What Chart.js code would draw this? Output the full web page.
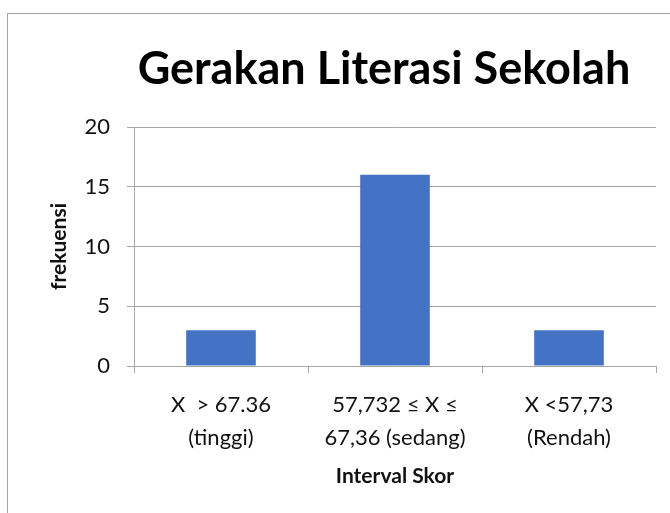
<!DOCTYPE html>
<html>
<head>
<meta charset="utf-8">
<script src="https://cdn.jsdelivr.net/npm/chart.js@4.4.0/dist/chart.umd.min.js"></script>
<style>
    body { margin: 0; background: #fff; overflow: hidden; }
    #frame {
        position: absolute;
        left: 7px;
        top: 13px;
        width: 700px;
        height: 600px;
        border: 1px solid #a6a6a6;
    }
    #chart { position: absolute; left: 0; top: 0; }
</style>
</head>
<body>
<div id="frame"></div>
<canvas id="chart" width="670" height="513"></canvas>
<script>
// data
const categories = [
    ['X  > 67.36', '(tinggi)'],
    ['57,732 \u2264 X \u2264', '67,36 (sedang)'],
    ['X <57,73', '(Rendah)'],
];
const frekuensi = [3, 16, 3];
const yTicks = [0, 5, 10, 15, 20];

const fontName = 'Lato, "Open Sans", sans-serif';
const gridColor = '#a6a6a6';

// title sits a little left of the plot centre in the original
const titleShift = {
    id: 'titleShift',
    afterLayout(chart) {
        if (chart.titleBlock) {
            chart.titleBlock.left -= 11;
            chart.titleBlock.right -= 11;
        }
    },
};

const ctx = document.getElementById('chart').getContext('2d');
const chart = new Chart(ctx, {
    type: 'bar',
    data: {
        labels: categories,
        datasets: [
            {
                label: 'frekuensi',
                data: frekuensi,
                backgroundColor: '#4472c4',
                borderWidth: 0,
                categoryPercentage: 0.8,
                barPercentage: 0.5,
            },
        ],
    },
    options: {
        responsive: false,
        animation: false,
        layout: {
            padding: { left: 0, right: 14, top: 0, bottom: 0 },
        },
        scales: {
            x: {
                grid: {
                    drawOnChartArea: false,
                    drawTicks: true,
                    tickLength: 7,
                    color: gridColor,
                },
                border: { color: gridColor },
                ticks: {
                    color: '#111',
                    padding: 15,
                    maxRotation: 0,
                    font: { family: fontName, size: 22, lineHeight: 1.5 },
                },
                title: {
                    display: true,
                    text: 'Interval Skor',
                    color: '#111',
                    font: { family: fontName, size: 21, weight: 'bold' },
                    padding: { top: 0, bottom: 24 },
                },
                afterFit: (scale) => {
                    scale.height = 147;
                },
            },
            y: {
                min: 0,
                max: 20,
                afterBuildTicks: (scale) => {
                    scale.ticks = yTicks.map((v) => ({ value: v }));
                },
                grid: {
                    color: gridColor,
                    tickLength: 7,
                },
                border: { color: gridColor },
                ticks: {
                    color: '#111',
                    padding: 17,
                    font: { family: fontName, size: 22 },
                },
                title: {
                    display: true,
                    text: 'frekuensi',
                    color: '#111',
                    font: { family: fontName, size: 21, weight: 'bold' },
                    padding: { top: 47, bottom: 0 },
                },
                afterFit: (scale) => {
                    scale.width = 134;
                },
            },
        },
        plugins: {
            legend: { display: false },
            tooltip: { enabled: false },
            title: {
                display: true,
                fullSize: false,
                text: 'Gerakan Literasi Sekolah',
                color: '#000',
                font: { family: fontName, size: 45, weight: 'bold', lineHeight: 1.2 },
                padding: { top: 42, bottom: 31 },
            },
        },
    },
    plugins: [titleShift],
});
</script>
</body>
</html>
